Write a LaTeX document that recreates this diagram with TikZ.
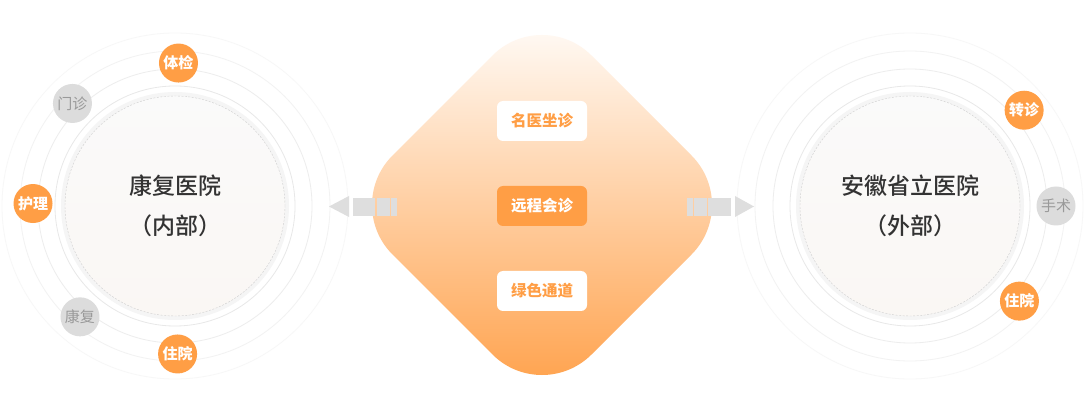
\documentclass[tikz,border=0pt]{standalone}
\usepackage{fontspec}
\setmainfont{Noto Sans CJK SC}
\newfontfamily\mediumfont{Noto Sans CJK SC Medium}
\usepackage{xcolor}
\definecolor{brand}{HTML}{FF9E45}
\definecolor{peach}{HTML}{FCE5D2}
\definecolor{chipgray}{HTML}{DCDCDC}
\definecolor{chiptext}{HTML}{999999}
\definecolor{ink}{HTML}{333333}
\definecolor{arrowgray}{HTML}{DEDEDE}
\definecolor{dashgray}{HTML}{CFCFCF}
\tikzstyle{core} = [circle, minimum size=220pt, inner sep=0pt, draw=dashgray, dash pattern=on 2pt off 1.5pt,
	top color=black!2, bottom color={rgb,255:red,250;green,247;blue,244}, text=ink, align=center,
	font=\fontsize{23}{40}\mediumfont]
\tikzstyle{badge} = [circle, fill=brand, text=white, minimum size=39pt, inner sep=0pt,
	font=\fontsize{15}{15}\selectfont\bfseries]
\tikzstyle{badgeoff} = [badge, fill=chipgray, text=chiptext, font=\fontsize{15}{15}\selectfont]
\tikzstyle{tag} = [rectangle, rounded corners=6pt, fill=white, text=brand, minimum width=90pt,
	minimum height=40pt, inner sep=0pt, font=\fontsize{15.5}{15}\selectfont\bfseries]
\tikzstyle{tagon} = [tag, fill=brand, text=white]
\usetikzlibrary{positioning}

\begin{document}
\begin{tikzpicture}[x=1pt, y=1pt, node distance=85pt]
	\useasboundingbox (0,0) rectangle (1085,418);
	\fill[white] (0,0) rectangle (1085,418);
	
	% centres
	\coordinate (localc) at (175,212);
	\coordinate (remotec) at (910,212);
	\coordinate (hub) at (542,213);
	
	% rings
	\foreach \c in {localc, remotec} {
		\foreach \r/\g in {173/3, 155/5, 137/7, 120/9}
			\draw[black!\g, line width=0.8pt] (\c) circle (\r);
		\fill[black!4] (\c) circle (114);
	}
	
	% hospitals
	\node[core] (local) at (localc) {康复医院\\（内部）};
	\node[core] (remote) at (remotec) {安徽省立医院\\（外部）};
	
	% services, left
	\node[badge] (tijian) at ([shift={(88.6:143)}]localc) {体检};
	\node[badgeoff] (menzhen) at ([shift={(135:145)}]localc) {门诊};
	\node[badge] (huli) at ([shift={(179:142)}]localc) {护理};
	\node[badgeoff] (kangfu) at ([shift={(229.4:146)}]localc) {康复};
	\node[badge] (zhuyuana) at ([shift={(271:148)}]localc) {住院};
	
	% services, right
	\node[badge] (zhuanzhen) at ([shift={(40:149)}]remotec) {转诊};
	\node[badgeoff] (shoushu) at ([shift={(0:146)}]remotec) {手术};
	\node[badge] (zhuyuanb) at ([shift={(-41:145)}]remotec) {住院};
	
	% hub
	\shade[top color=white, middle color=peach, bottom color=brand, rounded corners=70pt]
		([shift={(0,199)}]hub) -- ([shift={(199,0)}]hub) -- ([shift={(0,-199)}]hub)
		-- ([shift={(-199,0)}]hub) -- cycle;
	\node[tagon] (tele) at ([yshift=-1pt]hub) {远程会诊};
	\node[tag, above of=tele] (expert) {名医坐诊};
	\node[tag, below of=tele] (green) {绿色通道};
	
	% arrows
	\fill[arrowgray] (329,211.5) -- (349,222) -- (349,201) -- cycle;
	\foreach \a/\b in {353/375, 377/390, 391/397}
		\fill[arrowgray] (\a,202) rectangle (\b,220);
	\fill[arrowgray] (754,211.5) -- (735,222) -- (735,201) -- cycle;
	\foreach \a/\b in {687/693, 694/707, 708/731}
		\fill[arrowgray] (\a,202) rectangle (\b,220);
	
\end{tikzpicture}
\end{document}
